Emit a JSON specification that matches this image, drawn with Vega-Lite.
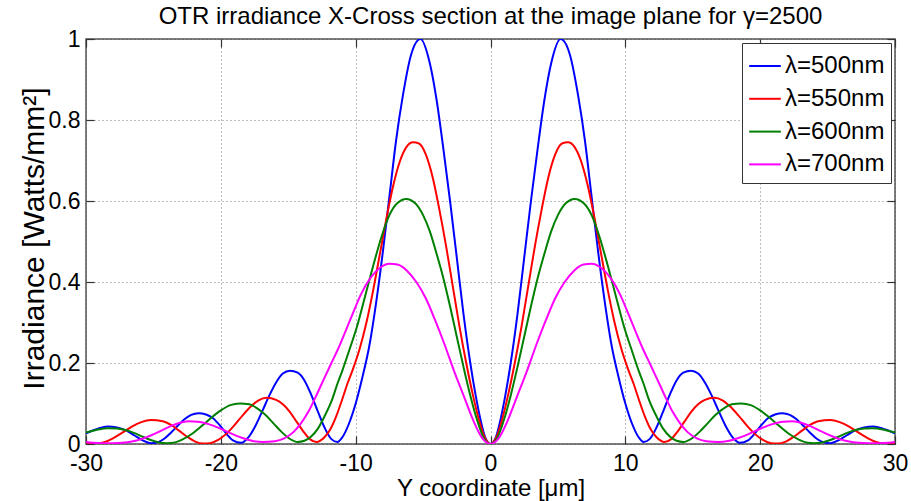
{
  "$schema": "https://vega.github.io/schema/vega-lite/v6.json",
  "width": 809,
  "height": 405,
  "autosize": {"type": "none"},
  "padding": {"left": 86, "top": 39, "right": 16, "bottom": 57},
  "background": "white",
  "title": {
    "text": "OTR irradiance X-Cross section at the image plane for γ=2500",
    "fontSize": 24,
    "fontWeight": "normal",
    "font": "Liberation Sans",
    "color": "black",
    "anchor": "middle",
    "offset": 6,
    "dy": 7
  },
  "layer": [
    {
      "data": {
        "values": [
          {"s": "500", "x": 0, "y": 0},
          {"s": "500", "x": 0.4, "y": 0.017}, {"s": "500", "x": -0.4, "y": 0.017},
          {"s": "500", "x": 0.74, "y": 0.06}, {"s": "500", "x": -0.74, "y": 0.06},
          {"s": "500", "x": 1.1, "y": 0.12}, {"s": "500", "x": -1.1, "y": 0.12},
          {"s": "500", "x": 1.5, "y": 0.2}, {"s": "500", "x": -1.5, "y": 0.2},
          {"s": "500", "x": 2, "y": 0.32}, {"s": "500", "x": -2, "y": 0.32},
          {"s": "500", "x": 2.5, "y": 0.46}, {"s": "500", "x": -2.5, "y": 0.46},
          {"s": "500", "x": 3, "y": 0.6}, {"s": "500", "x": -3, "y": 0.6},
          {"s": "500", "x": 3.5, "y": 0.73}, {"s": "500", "x": -3.5, "y": 0.73},
          {"s": "500", "x": 4, "y": 0.85}, {"s": "500", "x": -4, "y": 0.85},
          {"s": "500", "x": 4.5, "y": 0.94}, {"s": "500", "x": -4.5, "y": 0.94},
          {"s": "500", "x": 5.2, "y": 1}, {"s": "500", "x": -5.2, "y": 1},
          {"s": "500", "x": 5.9, "y": 0.96}, {"s": "500", "x": -5.9, "y": 0.96},
          {"s": "500", "x": 6.5, "y": 0.86}, {"s": "500", "x": -6.5, "y": 0.86},
          {"s": "500", "x": 7, "y": 0.75}, {"s": "500", "x": -7, "y": 0.75},
          {"s": "500", "x": 7.5, "y": 0.61}, {"s": "500", "x": -7.5, "y": 0.61},
          {"s": "500", "x": 8, "y": 0.47}, {"s": "500", "x": -8, "y": 0.47},
          {"s": "500", "x": 8.5, "y": 0.345}, {"s": "500", "x": -8.5, "y": 0.345},
          {"s": "500", "x": 9, "y": 0.24}, {"s": "500", "x": -9, "y": 0.24},
          {"s": "500", "x": 9.5, "y": 0.165}, {"s": "500", "x": -9.5, "y": 0.165},
          {"s": "500", "x": 10, "y": 0.1}, {"s": "500", "x": -10, "y": 0.1},
          {"s": "500", "x": 10.5, "y": 0.05}, {"s": "500", "x": -10.5, "y": 0.05},
          {"s": "500", "x": 11, "y": 0.016}, {"s": "500", "x": -11, "y": 0.016},
          {"s": "500", "x": 11.35, "y": 0.005}, {"s": "500", "x": -11.35, "y": 0.005},
          {"s": "500", "x": 11.8, "y": 0.012}, {"s": "500", "x": -11.8, "y": 0.012},
          {"s": "500", "x": 12.3, "y": 0.04}, {"s": "500", "x": -12.3, "y": 0.04},
          {"s": "500", "x": 12.8, "y": 0.08}, {"s": "500", "x": -12.8, "y": 0.08},
          {"s": "500", "x": 13.3, "y": 0.122}, {"s": "500", "x": -13.3, "y": 0.122},
          {"s": "500", "x": 13.8, "y": 0.157}, {"s": "500", "x": -13.8, "y": 0.157},
          {"s": "500", "x": 14.3, "y": 0.176}, {"s": "500", "x": -14.3, "y": 0.176},
          {"s": "500", "x": 14.87, "y": 0.181}, {"s": "500", "x": -14.87, "y": 0.181},
          {"s": "500", "x": 15.4, "y": 0.174}, {"s": "500", "x": -15.4, "y": 0.174},
          {"s": "500", "x": 15.9, "y": 0.152}, {"s": "500", "x": -15.9, "y": 0.152},
          {"s": "500", "x": 16.4, "y": 0.12}, {"s": "500", "x": -16.4, "y": 0.12},
          {"s": "500", "x": 16.9, "y": 0.083}, {"s": "500", "x": -16.9, "y": 0.083},
          {"s": "500", "x": 17.4, "y": 0.047}, {"s": "500", "x": -17.4, "y": 0.047},
          {"s": "500", "x": 17.9, "y": 0.019}, {"s": "500", "x": -17.9, "y": 0.019},
          {"s": "500", "x": 18.5, "y": 0.003}, {"s": "500", "x": -18.5, "y": 0.003},
          {"s": "500", "x": 19.1, "y": 0.009}, {"s": "500", "x": -19.1, "y": 0.009},
          {"s": "500", "x": 19.6, "y": 0.026}, {"s": "500", "x": -19.6, "y": 0.026},
          {"s": "500", "x": 20.1, "y": 0.047}, {"s": "500", "x": -20.1, "y": 0.047},
          {"s": "500", "x": 20.6, "y": 0.064}, {"s": "500", "x": -20.6, "y": 0.064},
          {"s": "500", "x": 21.1, "y": 0.073}, {"s": "500", "x": -21.1, "y": 0.073},
          {"s": "500", "x": 21.65, "y": 0.076}, {"s": "500", "x": -21.65, "y": 0.076},
          {"s": "500", "x": 22.2, "y": 0.072}, {"s": "500", "x": -22.2, "y": 0.072},
          {"s": "500", "x": 22.7, "y": 0.061}, {"s": "500", "x": -22.7, "y": 0.061},
          {"s": "500", "x": 23.2, "y": 0.045}, {"s": "500", "x": -23.2, "y": 0.045},
          {"s": "500", "x": 23.7, "y": 0.028}, {"s": "500", "x": -23.7, "y": 0.028},
          {"s": "500", "x": 24.2, "y": 0.013}, {"s": "500", "x": -24.2, "y": 0.013},
          {"s": "500", "x": 24.7, "y": 0.004}, {"s": "500", "x": -24.7, "y": 0.004},
          {"s": "500", "x": 25.2, "y": 0.002}, {"s": "500", "x": -25.2, "y": 0.002},
          {"s": "500", "x": 25.8, "y": 0.009}, {"s": "500", "x": -25.8, "y": 0.009},
          {"s": "500", "x": 26.4, "y": 0.021}, {"s": "500", "x": -26.4, "y": 0.021},
          {"s": "500", "x": 27, "y": 0.033}, {"s": "500", "x": -27, "y": 0.033},
          {"s": "500", "x": 27.7, "y": 0.041}, {"s": "500", "x": -27.7, "y": 0.041},
          {"s": "500", "x": 28.4, "y": 0.043}, {"s": "500", "x": -28.4, "y": 0.043},
          {"s": "500", "x": 29.1, "y": 0.038}, {"s": "500", "x": -29.1, "y": 0.038},
          {"s": "500", "x": 29.6, "y": 0.032}, {"s": "500", "x": -29.6, "y": 0.032},
          {"s": "500", "x": 30, "y": 0.026}, {"s": "500", "x": -30, "y": 0.026},

          {"s": "550", "x": 0, "y": 0},
          {"s": "550", "x": 0.45, "y": 0.018}, {"s": "550", "x": -0.45, "y": 0.018},
          {"s": "550", "x": 0.86, "y": 0.06}, {"s": "550", "x": -0.86, "y": 0.06},
          {"s": "550", "x": 1.3, "y": 0.12}, {"s": "550", "x": -1.3, "y": 0.12},
          {"s": "550", "x": 1.8, "y": 0.2}, {"s": "550", "x": -1.8, "y": 0.2},
          {"s": "550", "x": 2.3, "y": 0.29}, {"s": "550", "x": -2.3, "y": 0.29},
          {"s": "550", "x": 2.8, "y": 0.39}, {"s": "550", "x": -2.8, "y": 0.39},
          {"s": "550", "x": 3.3, "y": 0.49}, {"s": "550", "x": -3.3, "y": 0.49},
          {"s": "550", "x": 3.8, "y": 0.58}, {"s": "550", "x": -3.8, "y": 0.58},
          {"s": "550", "x": 4.3, "y": 0.66}, {"s": "550", "x": -4.3, "y": 0.66},
          {"s": "550", "x": 4.8, "y": 0.715}, {"s": "550", "x": -4.8, "y": 0.715},
          {"s": "550", "x": 5.3, "y": 0.742}, {"s": "550", "x": -5.3, "y": 0.742},
          {"s": "550", "x": 5.75, "y": 0.745}, {"s": "550", "x": -5.75, "y": 0.745},
          {"s": "550", "x": 6.2, "y": 0.735}, {"s": "550", "x": -6.2, "y": 0.735},
          {"s": "550", "x": 6.7, "y": 0.7}, {"s": "550", "x": -6.7, "y": 0.7},
          {"s": "550", "x": 7.2, "y": 0.64}, {"s": "550", "x": -7.2, "y": 0.64},
          {"s": "550", "x": 7.7, "y": 0.56}, {"s": "550", "x": -7.7, "y": 0.56},
          {"s": "550", "x": 8.2, "y": 0.47}, {"s": "550", "x": -8.2, "y": 0.47},
          {"s": "550", "x": 8.7, "y": 0.38}, {"s": "550", "x": -8.7, "y": 0.38},
          {"s": "550", "x": 9.2, "y": 0.3}, {"s": "550", "x": -9.2, "y": 0.3},
          {"s": "550", "x": 9.73, "y": 0.232}, {"s": "550", "x": -9.73, "y": 0.232},
          {"s": "550", "x": 10.2, "y": 0.185}, {"s": "550", "x": -10.2, "y": 0.185},
          {"s": "550", "x": 10.6, "y": 0.15}, {"s": "550", "x": -10.6, "y": 0.15},
          {"s": "550", "x": 11, "y": 0.11}, {"s": "550", "x": -11, "y": 0.11},
          {"s": "550", "x": 11.46, "y": 0.067}, {"s": "550", "x": -11.46, "y": 0.067},
          {"s": "550", "x": 11.9, "y": 0.035}, {"s": "550", "x": -11.9, "y": 0.035},
          {"s": "550", "x": 12.33, "y": 0.016}, {"s": "550", "x": -12.33, "y": 0.016},
          {"s": "550", "x": 12.9, "y": 0.005}, {"s": "550", "x": -12.9, "y": 0.005},
          {"s": "550", "x": 13.4, "y": 0.012}, {"s": "550", "x": -13.4, "y": 0.012},
          {"s": "550", "x": 13.9, "y": 0.032}, {"s": "550", "x": -13.9, "y": 0.032},
          {"s": "550", "x": 14.4, "y": 0.056}, {"s": "550", "x": -14.4, "y": 0.056},
          {"s": "550", "x": 14.9, "y": 0.08}, {"s": "550", "x": -14.9, "y": 0.08},
          {"s": "550", "x": 15.4, "y": 0.098}, {"s": "550", "x": -15.4, "y": 0.098},
          {"s": "550", "x": 15.9, "y": 0.109}, {"s": "550", "x": -15.9, "y": 0.109},
          {"s": "550", "x": 16.6, "y": 0.114}, {"s": "550", "x": -16.6, "y": 0.114},
          {"s": "550", "x": 17.2, "y": 0.108}, {"s": "550", "x": -17.2, "y": 0.108},
          {"s": "550", "x": 17.8, "y": 0.092}, {"s": "550", "x": -17.8, "y": 0.092},
          {"s": "550", "x": 18.4, "y": 0.07}, {"s": "550", "x": -18.4, "y": 0.07},
          {"s": "550", "x": 19, "y": 0.046}, {"s": "550", "x": -19, "y": 0.046},
          {"s": "550", "x": 19.6, "y": 0.025}, {"s": "550", "x": -19.6, "y": 0.025},
          {"s": "550", "x": 20.2, "y": 0.01}, {"s": "550", "x": -20.2, "y": 0.01},
          {"s": "550", "x": 20.8, "y": 0.002}, {"s": "550", "x": -20.8, "y": 0.002},
          {"s": "550", "x": 21.3, "y": 0.001}, {"s": "550", "x": -21.3, "y": 0.001},
          {"s": "550", "x": 21.9, "y": 0.006}, {"s": "550", "x": -21.9, "y": 0.006},
          {"s": "550", "x": 22.5, "y": 0.018}, {"s": "550", "x": -22.5, "y": 0.018},
          {"s": "550", "x": 23.1, "y": 0.033}, {"s": "550", "x": -23.1, "y": 0.033},
          {"s": "550", "x": 23.7, "y": 0.047}, {"s": "550", "x": -23.7, "y": 0.047},
          {"s": "550", "x": 24.3, "y": 0.056}, {"s": "550", "x": -24.3, "y": 0.056},
          {"s": "550", "x": 25.2, "y": 0.059}, {"s": "550", "x": -25.2, "y": 0.059},
          {"s": "550", "x": 25.9, "y": 0.054}, {"s": "550", "x": -25.9, "y": 0.054},
          {"s": "550", "x": 26.6, "y": 0.043}, {"s": "550", "x": -26.6, "y": 0.043},
          {"s": "550", "x": 27.3, "y": 0.028}, {"s": "550", "x": -27.3, "y": 0.028},
          {"s": "550", "x": 28, "y": 0.014}, {"s": "550", "x": -28, "y": 0.014},
          {"s": "550", "x": 28.6, "y": 0.005}, {"s": "550", "x": -28.6, "y": 0.005},
          {"s": "550", "x": 29.2, "y": 0.001}, {"s": "550", "x": -29.2, "y": 0.001},
          {"s": "550", "x": 29.7, "y": 0.002}, {"s": "550", "x": -29.7, "y": 0.002},
          {"s": "550", "x": 30, "y": 0.004}, {"s": "550", "x": -30, "y": 0.004},

          {"s": "600", "x": 0, "y": 0},
          {"s": "600", "x": 0.5, "y": 0.015}, {"s": "600", "x": -0.5, "y": 0.015},
          {"s": "600", "x": 1, "y": 0.06}, {"s": "600", "x": -1, "y": 0.06},
          {"s": "600", "x": 1.5, "y": 0.12}, {"s": "600", "x": -1.5, "y": 0.12},
          {"s": "600", "x": 2, "y": 0.19}, {"s": "600", "x": -2, "y": 0.19},
          {"s": "600", "x": 2.5, "y": 0.265}, {"s": "600", "x": -2.5, "y": 0.265},
          {"s": "600", "x": 3, "y": 0.34}, {"s": "600", "x": -3, "y": 0.34},
          {"s": "600", "x": 3.5, "y": 0.41}, {"s": "600", "x": -3.5, "y": 0.41},
          {"s": "600", "x": 4, "y": 0.47}, {"s": "600", "x": -4, "y": 0.47},
          {"s": "600", "x": 4.5, "y": 0.525}, {"s": "600", "x": -4.5, "y": 0.525},
          {"s": "600", "x": 5, "y": 0.565}, {"s": "600", "x": -5, "y": 0.565},
          {"s": "600", "x": 5.6, "y": 0.595}, {"s": "600", "x": -5.6, "y": 0.595},
          {"s": "600", "x": 6.25, "y": 0.605}, {"s": "600", "x": -6.25, "y": 0.605},
          {"s": "600", "x": 6.9, "y": 0.595}, {"s": "600", "x": -6.9, "y": 0.595},
          {"s": "600", "x": 7.5, "y": 0.565}, {"s": "600", "x": -7.5, "y": 0.565},
          {"s": "600", "x": 8.1, "y": 0.51}, {"s": "600", "x": -8.1, "y": 0.51},
          {"s": "600", "x": 8.7, "y": 0.44}, {"s": "600", "x": -8.7, "y": 0.44},
          {"s": "600", "x": 9.3, "y": 0.365}, {"s": "600", "x": -9.3, "y": 0.365},
          {"s": "600", "x": 9.9, "y": 0.29}, {"s": "600", "x": -9.9, "y": 0.29},
          {"s": "600", "x": 10.47, "y": 0.232}, {"s": "600", "x": -10.47, "y": 0.232},
          {"s": "600", "x": 11, "y": 0.18}, {"s": "600", "x": -11, "y": 0.18},
          {"s": "600", "x": 11.34, "y": 0.15}, {"s": "600", "x": -11.34, "y": 0.15},
          {"s": "600", "x": 11.8, "y": 0.105}, {"s": "600", "x": -11.8, "y": 0.105},
          {"s": "600", "x": 12.33, "y": 0.067}, {"s": "600", "x": -12.33, "y": 0.067},
          {"s": "600", "x": 12.8, "y": 0.038}, {"s": "600", "x": -12.8, "y": 0.038},
          {"s": "600", "x": 13.32, "y": 0.018}, {"s": "600", "x": -13.32, "y": 0.018},
          {"s": "600", "x": 13.8, "y": 0.008}, {"s": "600", "x": -13.8, "y": 0.008},
          {"s": "600", "x": 14.3, "y": 0.005}, {"s": "600", "x": -14.3, "y": 0.005},
          {"s": "600", "x": 14.9, "y": 0.013}, {"s": "600", "x": -14.9, "y": 0.013},
          {"s": "600", "x": 15.5, "y": 0.03}, {"s": "600", "x": -15.5, "y": 0.03},
          {"s": "600", "x": 16.1, "y": 0.051}, {"s": "600", "x": -16.1, "y": 0.051},
          {"s": "600", "x": 16.7, "y": 0.072}, {"s": "600", "x": -16.7, "y": 0.072},
          {"s": "600", "x": 17.3, "y": 0.088}, {"s": "600", "x": -17.3, "y": 0.088},
          {"s": "600", "x": 17.9, "y": 0.098}, {"s": "600", "x": -17.9, "y": 0.098},
          {"s": "600", "x": 18.6, "y": 0.1}, {"s": "600", "x": -18.6, "y": 0.1},
          {"s": "600", "x": 19.3, "y": 0.096}, {"s": "600", "x": -19.3, "y": 0.096},
          {"s": "600", "x": 20, "y": 0.083}, {"s": "600", "x": -20, "y": 0.083},
          {"s": "600", "x": 20.7, "y": 0.065}, {"s": "600", "x": -20.7, "y": 0.065},
          {"s": "600", "x": 21.4, "y": 0.045}, {"s": "600", "x": -21.4, "y": 0.045},
          {"s": "600", "x": 22.1, "y": 0.026}, {"s": "600", "x": -22.1, "y": 0.026},
          {"s": "600", "x": 22.8, "y": 0.012}, {"s": "600", "x": -22.8, "y": 0.012},
          {"s": "600", "x": 23.4, "y": 0.004}, {"s": "600", "x": -23.4, "y": 0.004},
          {"s": "600", "x": 24, "y": 0.002}, {"s": "600", "x": -24, "y": 0.002},
          {"s": "600", "x": 24.6, "y": 0.004}, {"s": "600", "x": -24.6, "y": 0.004},
          {"s": "600", "x": 25.2, "y": 0.01}, {"s": "600", "x": -25.2, "y": 0.01},
          {"s": "600", "x": 25.8, "y": 0.018}, {"s": "600", "x": -25.8, "y": 0.018},
          {"s": "600", "x": 26.4, "y": 0.027}, {"s": "600", "x": -26.4, "y": 0.027},
          {"s": "600", "x": 27, "y": 0.034}, {"s": "600", "x": -27, "y": 0.034},
          {"s": "600", "x": 27.7, "y": 0.038}, {"s": "600", "x": -27.7, "y": 0.038},
          {"s": "600", "x": 28.35, "y": 0.039}, {"s": "600", "x": -28.35, "y": 0.039},
          {"s": "600", "x": 29.1, "y": 0.036}, {"s": "600", "x": -29.1, "y": 0.036},
          {"s": "600", "x": 30, "y": 0.028}, {"s": "600", "x": -30, "y": 0.028},

          {"s": "700", "x": 0, "y": 0},
          {"s": "700", "x": 0.6, "y": 0.014}, {"s": "700", "x": -0.6, "y": 0.014},
          {"s": "700", "x": 1.3, "y": 0.06}, {"s": "700", "x": -1.3, "y": 0.06},
          {"s": "700", "x": 2, "y": 0.12}, {"s": "700", "x": -2, "y": 0.12},
          {"s": "700", "x": 2.7, "y": 0.18}, {"s": "700", "x": -2.7, "y": 0.18},
          {"s": "700", "x": 3.4, "y": 0.245}, {"s": "700", "x": -3.4, "y": 0.245},
          {"s": "700", "x": 4.1, "y": 0.305}, {"s": "700", "x": -4.1, "y": 0.305},
          {"s": "700", "x": 4.8, "y": 0.36}, {"s": "700", "x": -4.8, "y": 0.36},
          {"s": "700", "x": 5.5, "y": 0.4}, {"s": "700", "x": -5.5, "y": 0.4},
          {"s": "700", "x": 6.2, "y": 0.428}, {"s": "700", "x": -6.2, "y": 0.428},
          {"s": "700", "x": 6.9, "y": 0.443}, {"s": "700", "x": -6.9, "y": 0.443},
          {"s": "700", "x": 7.5, "y": 0.445}, {"s": "700", "x": -7.5, "y": 0.445},
          {"s": "700", "x": 8.2, "y": 0.435}, {"s": "700", "x": -8.2, "y": 0.435},
          {"s": "700", "x": 8.9, "y": 0.41}, {"s": "700", "x": -8.9, "y": 0.41},
          {"s": "700", "x": 9.6, "y": 0.37}, {"s": "700", "x": -9.6, "y": 0.37},
          {"s": "700", "x": 10.3, "y": 0.315}, {"s": "700", "x": -10.3, "y": 0.315},
          {"s": "700", "x": 11.34, "y": 0.232}, {"s": "700", "x": -11.34, "y": 0.232},
          {"s": "700", "x": 11.8, "y": 0.2}, {"s": "700", "x": -11.8, "y": 0.2},
          {"s": "700", "x": 12.5, "y": 0.15}, {"s": "700", "x": -12.5, "y": 0.15},
          {"s": "700", "x": 13.07, "y": 0.109}, {"s": "700", "x": -13.07, "y": 0.109},
          {"s": "700", "x": 13.5, "y": 0.08}, {"s": "700", "x": -13.5, "y": 0.08},
          {"s": "700", "x": 14.06, "y": 0.051}, {"s": "700", "x": -14.06, "y": 0.051},
          {"s": "700", "x": 14.6, "y": 0.03}, {"s": "700", "x": -14.6, "y": 0.03},
          {"s": "700", "x": 15.3, "y": 0.014}, {"s": "700", "x": -15.3, "y": 0.014},
          {"s": "700", "x": 16, "y": 0.007}, {"s": "700", "x": -16, "y": 0.007},
          {"s": "700", "x": 16.9, "y": 0.005}, {"s": "700", "x": -16.9, "y": 0.005},
          {"s": "700", "x": 17.7, "y": 0.008}, {"s": "700", "x": -17.7, "y": 0.008},
          {"s": "700", "x": 18.5, "y": 0.016}, {"s": "700", "x": -18.5, "y": 0.016},
          {"s": "700", "x": 19.3, "y": 0.027}, {"s": "700", "x": -19.3, "y": 0.027},
          {"s": "700", "x": 20.1, "y": 0.039}, {"s": "700", "x": -20.1, "y": 0.039},
          {"s": "700", "x": 20.9, "y": 0.049}, {"s": "700", "x": -20.9, "y": 0.049},
          {"s": "700", "x": 21.7, "y": 0.055}, {"s": "700", "x": -21.7, "y": 0.055},
          {"s": "700", "x": 22.4, "y": 0.056}, {"s": "700", "x": -22.4, "y": 0.056},
          {"s": "700", "x": 23.1, "y": 0.052}, {"s": "700", "x": -23.1, "y": 0.052},
          {"s": "700", "x": 23.8, "y": 0.043}, {"s": "700", "x": -23.8, "y": 0.043},
          {"s": "700", "x": 24.5, "y": 0.032}, {"s": "700", "x": -24.5, "y": 0.032},
          {"s": "700", "x": 25.2, "y": 0.021}, {"s": "700", "x": -25.2, "y": 0.021},
          {"s": "700", "x": 25.9, "y": 0.012}, {"s": "700", "x": -25.9, "y": 0.012},
          {"s": "700", "x": 26.6, "y": 0.006}, {"s": "700", "x": -26.6, "y": 0.006},
          {"s": "700", "x": 27.3, "y": 0.003}, {"s": "700", "x": -27.3, "y": 0.003},
          {"s": "700", "x": 28, "y": 0.002}, {"s": "700", "x": -28, "y": 0.002},
          {"s": "700", "x": 28.8, "y": 0.002}, {"s": "700", "x": -28.8, "y": 0.002},
          {"s": "700", "x": 29.5, "y": 0.003}, {"s": "700", "x": -29.5, "y": 0.003},
          {"s": "700", "x": 30, "y": 0.005}, {"s": "700", "x": -30, "y": 0.005}
        ]
      },
      "mark": {"type": "line", "strokeWidth": 2, "interpolate": "monotone", "clip": true},
      "encoding": {
        "x": {
          "field": "x",
          "type": "quantitative",
          "scale": {"domain": [-30, 30], "nice": false, "zero": false},
          "axis": {
            "orient": "bottom",
            "values": [-30, -20, -10, 0, 10, 20, 30],
            "labelExpr": "replace(datum.label, '−', '-')",
            "labelFlush": false,
            "labelBaseline": "alphabetic",
            "labelPadding": 34,
            "grid": true,
            "title": "Y coordinate [μm]",
            "titleX": 404.5,
            "titleY": 51,
            "titleBaseline": "alphabetic"
          }
        },
        "y": {
          "field": "y",
          "type": "quantitative",
          "scale": {"domain": [0, 1], "nice": false},
          "axis": {
            "orient": "left",
            "values": [0, 0.2, 0.4, 0.6, 0.8, 1],
            "format": "~g",
            "labelPadding": 14,
            "grid": true,
            "title": "Irradiance [Watts/mm²]",
            "titleFontSize": 30,
            "titleX": -43,
            "titleY": 199,
            "titleBaseline": "alphabetic"
          }
        },
        "color": {
          "field": "s",
          "type": "nominal",
          "scale": {
            "domain": ["500", "550", "600", "700"],
            "range": ["#0000FF", "#FF0000", "#008000", "#FF00FF"]
          },
          "legend": {
            "title": null,
            "orient": "none",
            "legendX": 656,
            "legendY": 4,
            "labelExpr": "'λ=' + datum.label + 'nm'",
            "symbolType": "stroke",
            "symbolSize": 1000,
            "symbolStrokeWidth": 2,
            "labelFontSize": 24,
            "labelFont": "Liberation Sans",
            "labelColor": "black",
            "labelOffset": 3,
            "padding": 6,
            "rowPadding": 3.8,
            "strokeColor": "#333333",
            "fillColor": "white"
          }
        }
      }
    },
    {
      "data": {"values": [{"x": -30, "y": 0}, {"x": 30, "y": 1}]},
      "mark": {"type": "point", "opacity": 0},
      "encoding": {
        "x": {
          "field": "x",
          "type": "quantitative",
          "axis": {"orient": "top", "values": [-30, -20, -10, 0, 10, 20, 30], "labels": false, "grid": false, "title": null}
        },
        "y": {
          "field": "y",
          "type": "quantitative",
          "axis": {"orient": "right", "values": [0, 0.2, 0.4, 0.6, 0.8, 1], "labels": false, "grid": false, "title": null}
        }
      }
    }
  ],
  "resolve": {"axis": {"x": "independent", "y": "independent"}},
  "config": {
    "font": "Liberation Sans",
    "view": {"stroke": "#555555", "strokeWidth": 1.5},
    "axis": {
      "domain": false,
      "tickSize": -8,
      "tickColor": "#333333",
      "tickWidth": 1.2,
      "gridColor": "#444444",
      "gridDash": [1, 3],
      "gridWidth": 1,
      "gridOpacity": 0.7,
      "labelFontSize": 23,
      "labelColor": "black",
      "labelFont": "Liberation Sans",
      "titleFont": "Liberation Sans",
      "titleFontSize": 24,
      "titleFontWeight": "normal",
      "titleColor": "black"
    }
  }
}
